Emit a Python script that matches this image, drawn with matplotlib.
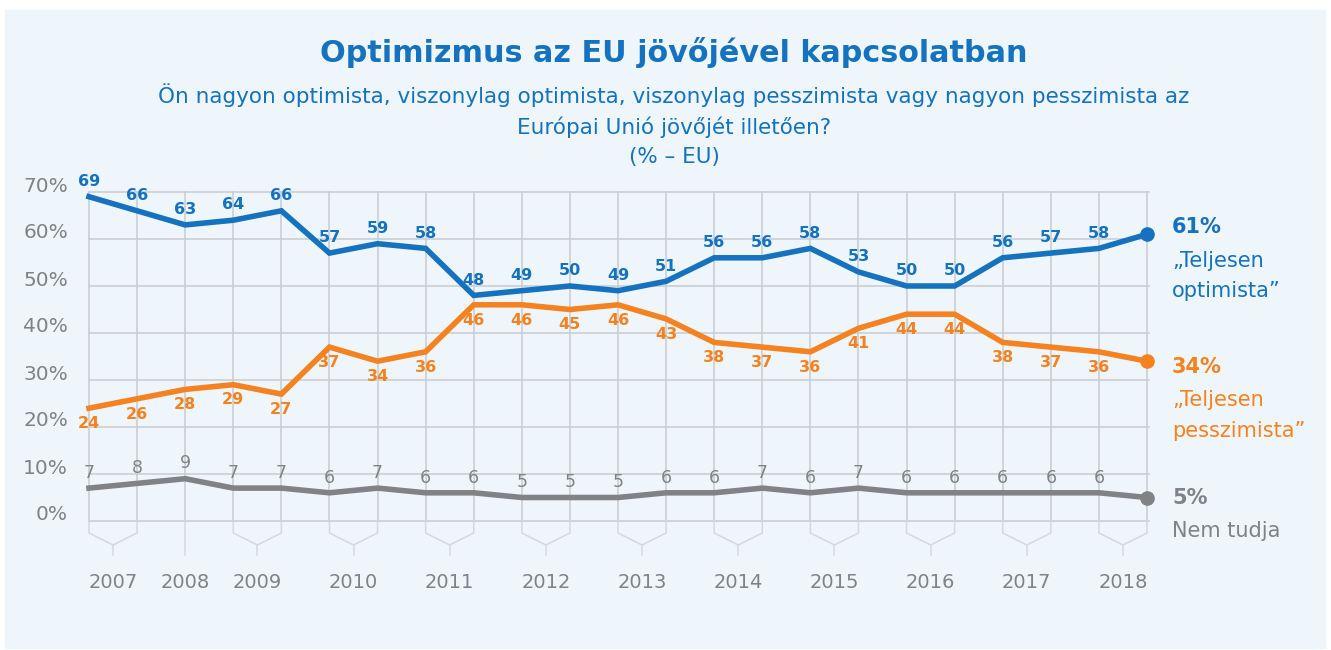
import numpy as np
import matplotlib
matplotlib.use('agg')
import matplotlib.pyplot as plt
from matplotlib.patches import Rectangle

# survey waves (2007 .. 2018), 23 points
years = ["2007", "2008", "2009", "2010", "2011", "2012", "2013",
         "2014", "2015", "2016", "2017", "2018"]
waves_per_year = [2, 1, 2, 2, 2, 2, 2, 2, 2, 2, 2, 2]

optimist = [69, 66, 63, 64, 66, 57, 59, 58, 48, 49, 50, 49, 51, 56, 56, 58,
            53, 50, 50, 56, 57, 58, 61]
pessimist = [24, 26, 28, 29, 27, 37, 34, 36, 46, 46, 45, 46, 43, 38, 37, 36,
             41, 44, 44, 38, 37, 36, 34]
dontknow = [7, 8, 9, 7, 7, 6, 7, 6, 6, 5, 5, 5, 6, 6, 7, 6, 7, 6, 6, 6, 6, 6, 5]

yticks = [0, 10, 20, 30, 40, 50, 60, 70]

BLUE = "#1472be"
ORANGE = "#f58220"
GRAY = "#808285"
GRID = "#c8ccd0"
BRACKET = "#d6d9dc"
PANEL = "#eef6fb"

W, H = 1331, 650
fig = plt.figure(figsize=(W / 100, H / 100), dpi=100)
fig.patch.set_facecolor("white")

# light panel behind everything
bg = fig.add_axes([0, 0, 1, 1], zorder=-5)
bg.axis("off")
bg.set_xlim(0, W)
bg.set_ylim(H, 0)
bg.add_patch(Rectangle((5, 10), 1320, 638, color=PANEL))

# axes placed in pixel terms
x0, x1, y0, y1 = 89, 1147, 521, 192
ax = fig.add_axes([x0 / W, (H - y0) / H, (x1 - x0) / W, (y0 - y1) / H])
ax.set_facecolor("none")
n = len(optimist)
x = np.arange(n)
ax.set_xlim(0, n - 1)
ax.set_ylim(0, 70)
ax.axis("off")

pxx = (x1 - x0) / (n - 1)   # pixels per x unit
pxy = (y0 - y1) / 70.0      # pixels per y unit

# grid
for v in yticks:
    ax.plot([0, n - 1 + 0.05], [v, v], color=GRID, lw=1.1, zorder=1, clip_on=False)
    ax.text(-21 / pxx, v + 6 / pxy, f"{v}%", ha="right", va="center",
            fontsize=14.5, color=GRAY, clip_on=False)
for xi in x:
    ax.plot([xi, xi], [0, 70], color=GRID, lw=1.1, zorder=1, clip_on=False)

# year brackets
d1, d2, d3 = -12 / pxy, -24 / pxy, -34 / pxy
idx = 0
for yr, k in zip(years, waves_per_year):
    if k == 1:
        ax.plot([idx, idx], [0, d3], color=BRACKET, lw=1.1, clip_on=False)
        cx = idx
    else:
        a, b = idx, idx + 1
        cx = (a + b) / 2
        ax.plot([a, a, cx, b, b], [0, d1, d2, d1, 0], color=BRACKET, lw=1.1,
                clip_on=False)
        ax.plot([cx, cx], [d2, d3], color=BRACKET, lw=1.1, clip_on=False)
    ax.text(cx, -61 / pxy, yr, ha="center", va="center", fontsize=14,
            color=GRAY, clip_on=False)
    idx += k

# series
series = [
    (optimist, BLUE, 11, "semibold", 11.5),
    (pessimist, ORANGE, -11, "semibold", 11.5),
    (dontknow, GRAY, 11, "normal", 12.5),
]
for vals, col, off, wt, fs in series:
    ax.plot(x, vals, color=col, lw=4, solid_joinstyle="miter", zorder=3,
            clip_on=False)
    ax.plot(x[-1], vals[-1], "o", color=col, ms=9.5, zorder=4, clip_on=False)
    for xi, v in zip(x[:-1], vals[:-1]):
        ax.annotate(str(v), (xi, v), xytext=(0, off), textcoords="offset points",
                    ha="center", va="center", fontsize=fs, color=col,
                    fontweight=wt, annotation_clip=False)

# end labels
def end_label(vals, col, lines):
    for txt, dy, bold in lines:
        ax.annotate(txt, (x[-1], vals[-1]), xytext=(18, dy), textcoords="offset points",
                    ha="left", va="center", fontsize=15, color=col,
                    fontweight="bold" if bold else "normal", annotation_clip=False)

end_label(optimist, BLUE, [(f"{optimist[-1]}%", 5, True),
                           ("\u201eTeljesen", -19, False),
                           ("optimista\u201d", -41, False)])
end_label(pessimist, ORANGE, [(f"{pessimist[-1]}%", -4, True),
                              ("\u201eTeljesen", -28, False),
                              ("pesszimista\u201d", -50, False)])
end_label(dontknow, GRAY, [(f"{dontknow[-1]}%", 0, True),
                           ("Nem tudja", -24, False)])

# titles
fig.text(674 / W, 1 - 52 / H, "Optimizmus az EU jövőjével kapcsolatban",
         ha="center", va="center", fontsize=21.8, fontweight="bold", color=BLUE)
fig.text(674 / W, 1 - 95 / H,
         "Ön nagyon optimista, viszonylag optimista, viszonylag pesszimista vagy nagyon pesszimista az",
         ha="center", va="center", fontsize=15.5, color=BLUE)
fig.text(674 / W, 1 - 127 / H, "Európai Unió jövőjét illetően?",
         ha="center", va="center", fontsize=15.5, color=BLUE)
fig.text(674 / W, 1 - 157 / H, "(% \u2013 EU)",
         ha="center", va="center", fontsize=15.5, color=BLUE)

fig.savefig("out.png", dpi=100, facecolor=fig.get_facecolor())
